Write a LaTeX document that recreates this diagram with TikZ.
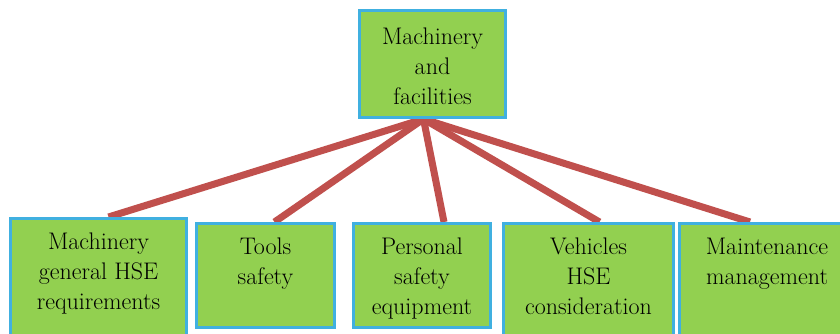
\documentclass[tikz,border=0pt]{standalone}
\usetikzlibrary{backgrounds}
\definecolor{boxgreen}{RGB}{146,208,80}
\definecolor{boxblue}{RGB}{64,176,224}
\definecolor{linkred}{RGB}{192,80,77}
\newcommand{\boxlines}[4]{\parbox[t][#2][t]{#1}{\centering\rule{0pt}{#3}#4}}

\begin{document}
\begin{tikzpicture}[x=1pt,y=-1pt,
	topic/.style={draw=boxblue,fill=boxgreen,line width=3pt,inner sep=0pt,anchor=north west,
		text=black,font=\fontsize{24}{30}\selectfont},
	link/.style={draw=linkred,line width=7pt}]
		\useasboundingbox (0,0) rectangle (840,334);
		\clip (0,0) rectangle (840,334);
		% top box
		\node[topic] (top) at (358,9) {\boxlines{146pt}{107pt}{34pt}{Machinery\\and\\facilities}};
		% bottom row
		\node[topic] (gen) at (9,217) {\boxlines{176pt}{140pt}{31pt}{Machinery\\general HSE\\requirements}};
		\node[topic] (tools) at (195,222) {\boxlines{138pt}{104pt}{31pt}{Tools\\safety}};
		\node[topic] (ppe) at (352,222) {\boxlines{137pt}{104pt}{31pt}{Personal\\safety\\equipment}};
		\node[topic] (veh) at (502,222) {\boxlines{170pt}{130pt}{31pt}{Vehicles\\HSE\\consideration}};
		\node[topic] (maint) at (678,222) {\boxlines{175pt}{130pt}{31pt}{Maintenance\\management}};
		\coordinate (hub) at ([xshift=-9pt]top.south);
		\begin{pgfonlayer}{background}
		\draw[link] (hub) -- ([xshift=10pt]gen.north);
		\draw[link] (hub) -- ([xshift=9pt]tools.north);
		\draw[link] (hub) -- ([xshift=22pt]ppe.north);
		\draw[link] (hub) -- ([xshift=11pt]veh.north);
		\draw[link] (hub) -- ([xshift=-17pt]maint.north);
		\end{pgfonlayer}
\end{tikzpicture}
\end{document}
